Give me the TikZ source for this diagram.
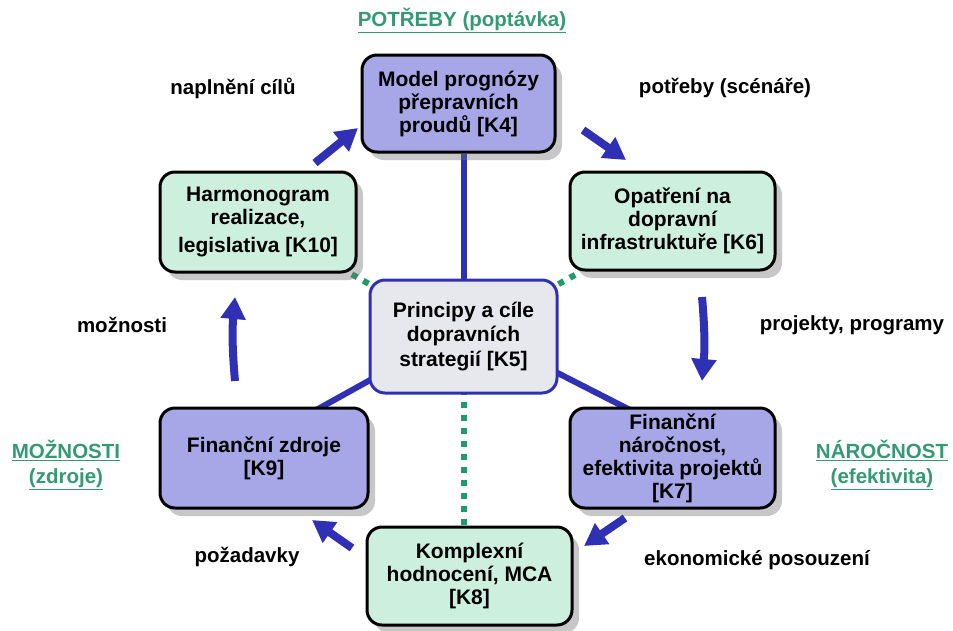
\documentclass[tikz,border=0pt]{standalone}
\usepackage{fontspec}
\setmainfont{Liberation Sans}
\usetikzlibrary{arrows.meta,shadows,calc}
\pgfdeclarelayer{background}
\pgfsetlayers{background,main}
\definecolor{lav}{HTML}{A7A7E8}
\definecolor{mint}{HTML}{CDEFDD}
\definecolor{cgray}{HTML}{E7E7EE}
\definecolor{navy}{HTML}{3030B4}
\definecolor{dgreen}{HTML}{1E9A6C}
\definecolor{lgreen}{HTML}{339A74}
\begin{document}
\begin{tikzpicture}[x=1pt,y=-1pt,
  box/.style={draw=black, line width=3pt, rounded corners=15pt, align=center,
    font=\fontsize{21}{23}\selectfont\bfseries, inner sep=2pt,
    drop shadow={shadow xshift=7pt, shadow yshift=-8pt, fill=black!55, opacity=.4}},
  lavbox/.style={box, fill=lav},
  mintbox/.style={box, fill=mint},
  lbl/.style={font=\fontsize{20.5}{23}\selectfont\bfseries, align=center},
  glbl/.style={font=\fontsize{20.5}{25}\selectfont\bfseries, text=lgreen, align=center},
  arr/.style={draw=navy, line width=8pt, -{Triangle[width=24pt,length=22pt]}},
  spoke/.style={draw=navy, line width=6pt},
  dots/.style={draw=dgreen, line width=6pt, dash pattern=on 6pt off 7pt}]
\useasboundingbox (0,0) rectangle (953,630);

\node[lavbox, minimum width=193pt, minimum height=97pt] (K4) at (458.5,103.5)
  {Model prognózy\\přepravních\\proudů [K4]};
\node[mintbox, minimum width=196pt, minimum height=100pt] (K10) at (258,222)
  {Harmonogram\\realizace,\\[5pt]legislativa [K10]};
\node[mintbox, minimum width=205pt, minimum height=98pt] (K6) at (672.5,221)
  {Opatření na\\dopravní\\infrastruktuře [K6]};
\node[draw=navy, fill=cgray, line width=3pt, rounded corners=15pt, align=center,
  font=\fontsize{21}{24.5}\selectfont\bfseries, minimum width=187pt, minimum height=113pt]
  (K5) at (463.5,336.5) {Principy a cíle\\dopravních\\strategií [K5]};
\node[lavbox, minimum width=208pt, minimum height=100pt] (K9) at (264,458)
  {Finanční zdroje\\{}[K9]};
\node[lavbox, minimum width=205pt, minimum height=100pt] (K7) at (672.5,458)
  {Finanční\\náročnost,\\efektivita projektů\\{}[K7]};
\node[mintbox, minimum width=205pt, minimum height=98pt] (K8) at (469.5,576)
  {Komplexní\\hodnocení, MCA\\{}[K8]};

% spoke end points (hidden under the boxes)
\coordinate (s9a) at (390,369); \coordinate (s9b) at (300,419);
\coordinate (s7a) at (540,364); \coordinate (s7b) at (640,415);
\begin{pgfonlayer}{background}
  \draw[spoke] (K5.center) -- (K5.center |- K4.south);
  \draw[spoke] (s9a) -- (s9b);
  \draw[spoke] (s7a) -- (s7b);
  \draw[dots] (K5) -- (K10);
  \draw[dots] (K5) -- (K6);
  \draw[dots] (K5.center) -- (K5.center |- K8.north);
\end{pgfonlayer}

% arrow end points
\coordinate (a1s) at (315,163); \coordinate (a1e) at (358,128);
\coordinate (a2s) at (583,130); \coordinate (a2e) at (626,160);
\coordinate (a3s) at (702,297); \coordinate (a3e) at (702,381);
\coordinate (a4s) at (625,518); \coordinate (a4e) at (584,546);
\coordinate (a5s) at (352,548); \coordinate (a5e) at (312,520);
\coordinate (a6s) at (235,381); \coordinate (a6e) at (235,297);
\draw[arr] (a1s) -- (a1e);
\draw[arr] (a2s) -- (a2e);
\draw[arr] (a3s) to[bend left=5] (a3e);
\draw[arr] (a4s) -- (a4e);
\draw[arr] (a5s) -- (a5e);
\draw[arr] (a6s) to[bend left=5] (a6e);

\node[glbl] (tP) at (462,20) {\underline{POTŘEBY (poptávka)}};
\node[glbl] (tM) at (66,465) {\underline{MOŽNOSTI}\\\underline{(zdroje)}};
\node[glbl] (tN) at (882,465) {\underline{NÁROČNOST}\\\underline{(efektivita)}};

\node[lbl] (l1) at (233,88) {naplnění cílů};
\node[lbl] (l2) at (725,88) {potřeby (scénáře)};
\node[lbl] (l3) at (122,325) {možnosti};
\node[lbl] (l4) at (852,325) {projekty, programy};
\node[lbl] (l5) at (247,557) {požadavky};
\node[lbl] (l6) at (757,560) {ekonomické posouzení};
\end{tikzpicture}
\end{document}
